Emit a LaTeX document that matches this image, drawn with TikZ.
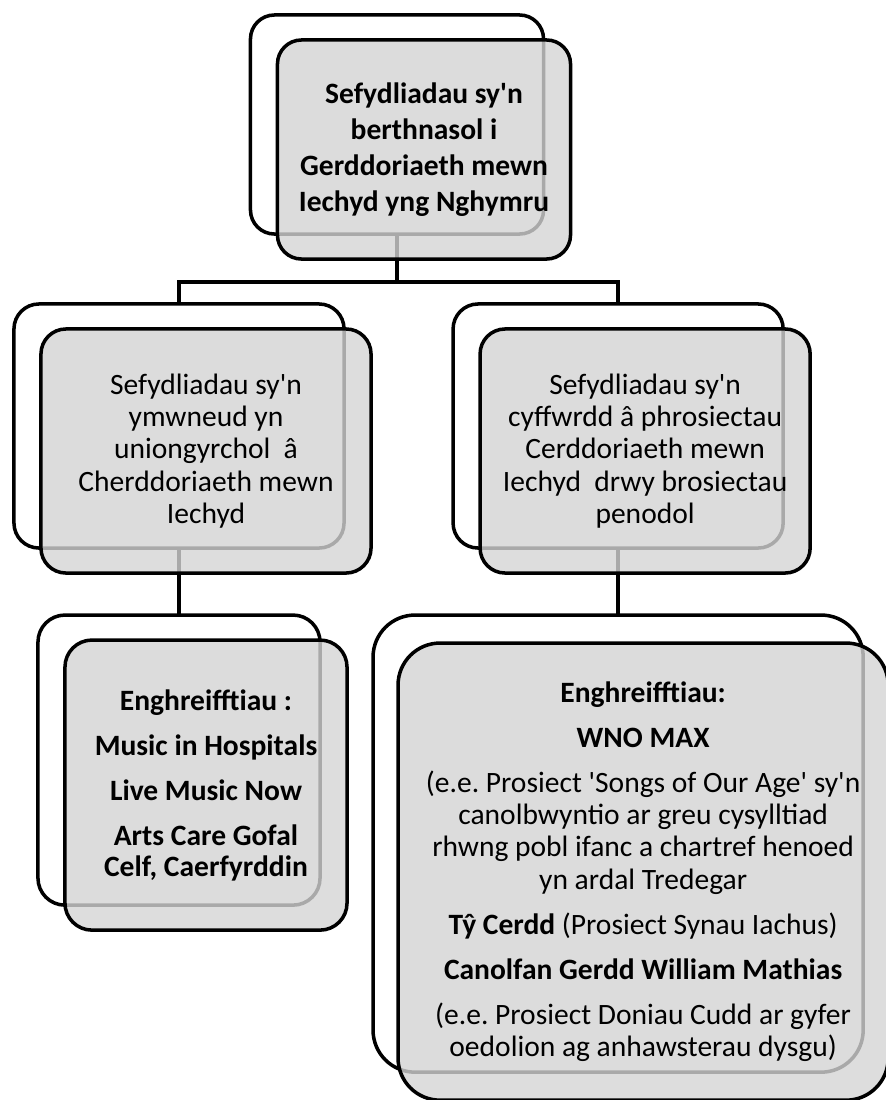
\documentclass[tikz,border=0pt]{standalone}
\usepackage{fontspec}
\setmainfont{Carlito}
\usetikzlibrary{positioning}
\definecolor{boxgrey}{HTML}{D4D4D4}
\newcommand{\sq}{\textquotesingle}
\frenchspacing
\tikzset{
	backbox/.style={rectangle, rounded corners=#1, draw=black, line width=2.5pt, fill=white, inner sep=0pt, outer sep=0pt},
	frontbox/.style={rectangle, rounded corners=#1, draw=black, line width=2.5pt, fill=boxgrey, fill opacity=0.8, text opacity=1, inner sep=0pt, outer sep=0pt, align=center, font=\fontsize{21}{23}\selectfont},
	link/.style={line width=2.5pt}
}

\begin{document}
\begin{tikzpicture}[x=0.025cm, y=-0.025cm]
		\useasboundingbox (0,0) rectangle (886,1100);
		
		% Back boxes
		\node (topback) [backbox=0.6cm, minimum width=7.325cm, minimum height=5.475cm] at (397,124.5) {};
		\node (leftback) [backbox=0.625cm, minimum width=8.25cm, minimum height=6.1cm] at (179,426) {};
		\node (rightback) [backbox=0.625cm, minimum width=8.25cm, minimum height=6.1cm, right=2.725cm of leftback] {};
		\node (blback) [backbox=0.675cm, minimum width=7.05cm, minimum height=7.25cm, below=1.675cm of leftback] {};
		\node (brback) [backbox=1.05cm, minimum width=12.25cm, minimum height=11.425cm, below=1.675cm of rightback] {};
		
		% Connectors
		\draw [link] (topback.south) -- +(0,48) -| (leftback.north);
		\draw [link] (topback.south) -- +(0,48) -| (rightback.north);
		\draw [link] (leftback.south) -- (blback.north);
		\draw [link] (rightback.south) -- (brback.north);
		
		% Front boxes
		\node (top) [frontbox=0.6cm, minimum width=7.325cm, minimum height=5.475cm, font=\fontsize{21}{25.5}\selectfont\bfseries] at ([shift={(27,25)}]topback) {Sefydliadau sy\sq n\\berthnasol i\\Gerddoriaeth mewn\\Iechyd yng Nghymru};
		\node (left) [frontbox=0.625cm, minimum width=8.25cm, minimum height=6.1cm] at ([shift={(27,25)}]leftback) {Sefydliadau sy\sq n\\ymwneud yn\\uniongyrchol\ \ â\\Cherddoriaeth mewn\\Iechyd};
		\node (right) [frontbox=0.625cm, minimum width=8.25cm, minimum height=6.1cm] at ([shift={(27,25)}]rightback) {Sefydliadau sy\sq n\\cyffwrdd â phrosiectau\\Cerddoriaeth mewn\\Iechyd\ \ drwy brosiectau\\penodol};
		\node (bl) [frontbox=0.675cm, minimum width=7.05cm, minimum height=7.25cm, font=\fontsize{21}{22}\selectfont\bfseries] at ([shift={(27,25)}]blback) {Enghreifftiau :\\[10pt]Music in Hospitals\\[10pt]Live Music Now\\[10pt]Arts Care Gofal\\Celf, Caerfyrddin};
		\node (br) [frontbox=1.05cm, minimum width=12.25cm, minimum height=11.425cm] at ([shift={(25,28)}]brback) {\textbf{Enghreifftiau:}\\[9pt]\textbf{WNO MAX}\\[9pt](e.e. Prosiect \sq Songs of Our Age\sq{} sy\sq n\\canolbwyntio ar greu cysylltiad\\rhwng pobl ifanc a chartref henoed\\yn ardal Tredegar\\[9pt]\textbf{Tŷ Cerdd} (Prosiect Synau Iachus)\\[9pt]\textbf{Canolfan Gerdd William Mathias}\\[9pt](e.e. Prosiect Doniau Cudd ar gyfer\\oedolion ag anhawsterau dysgu)};
	\end{tikzpicture}
\end{document}
